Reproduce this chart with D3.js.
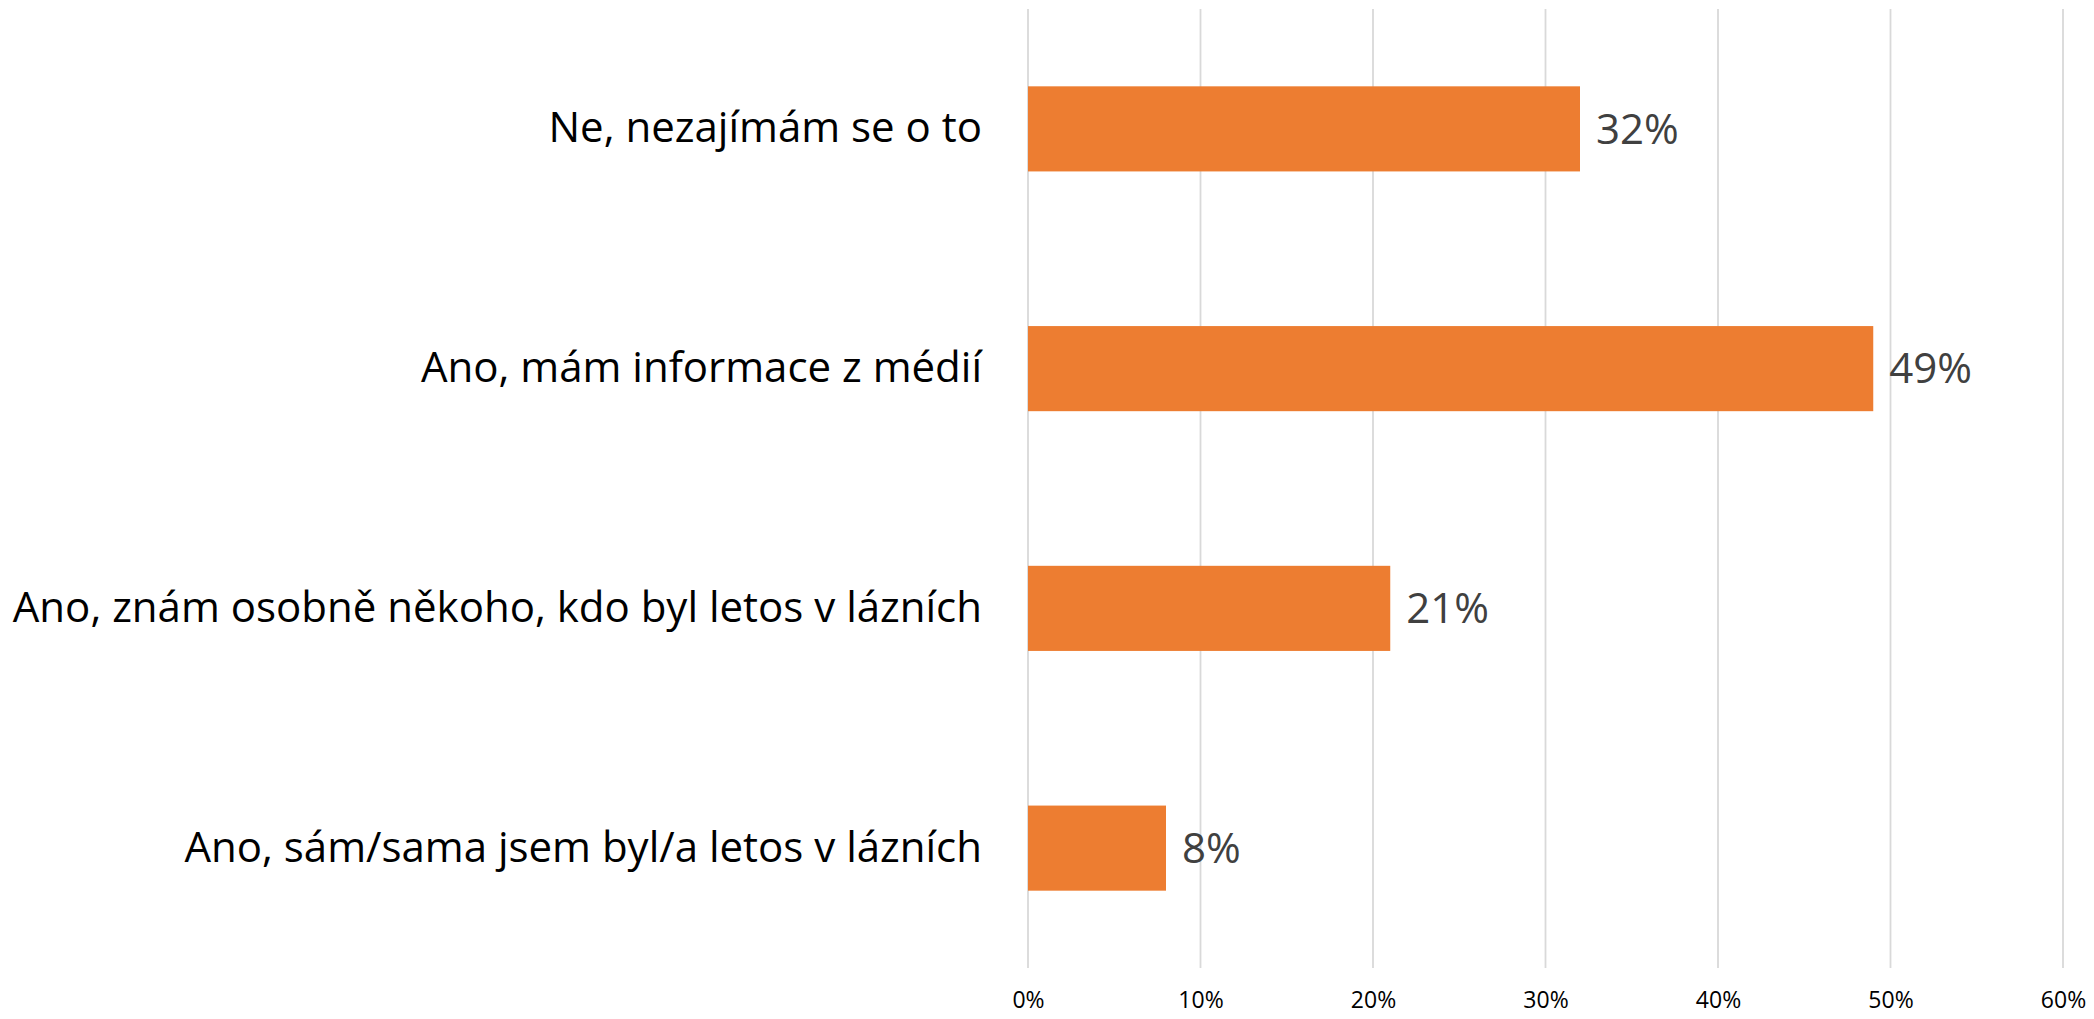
<!DOCTYPE html>
<html>
<head>
<meta charset="utf-8">
<script src="https://cdn.jsdelivr.net/npm/d3@7"></script>
<style>
	body { margin: 0; background: #fff; }
	svg { display: block; }
</style>
</head>
<body>
<div id="chart-area"></div>
<script>
const MARGIN = { LEFT: 1028, RIGHT: 31, TOP: 9, BOTTOM: 51 };
const WIDTH = 2094 - MARGIN.LEFT - MARGIN.RIGHT;
const HEIGHT = 1019 - MARGIN.TOP - MARGIN.BOTTOM;

// data
const categories = [
	"Ne, nezajímám se o to",
	"Ano, mám informace z médií",
	"Ano, znám osobně někoho, kdo byl letos v lázních",
	"Ano, sám/sama jsem byl/a letos v lázních"
];
const values = [0.32, 0.49, 0.21, 0.08];
const tickValues = [0, 0.1, 0.2, 0.3, 0.4, 0.5, 0.6];

const FONT = "'Open Sans', 'Noto Sans', sans-serif";

const svg = d3.select("#chart-area").append("svg")
	.attr("width", WIDTH + MARGIN.LEFT + MARGIN.RIGHT)
	.attr("height", HEIGHT + MARGIN.TOP + MARGIN.BOTTOM)

const g = svg.append("g")
	.attr("transform", `translate(${MARGIN.LEFT}, ${MARGIN.TOP})`)

const x = d3.scaleLinear()
	.domain([0, 0.6])
	.range([0, WIDTH])

const y = d3.scaleBand()
	.domain(categories)
	.range([0, HEIGHT])
	.paddingInner(0.645)
	.paddingOuter(0.3225)

// gridlines
g.selectAll(".grid")
	.data(tickValues)
	.enter().append("line")
	.attr("class", "grid")
	.attr("x1", d => x(d))
	.attr("x2", d => x(d))
	.attr("y1", 0)
	.attr("y2", HEIGHT)
	.attr("stroke", "#d9d9d9")
	.attr("stroke-width", 1.8)

// x axis labels
const xAxisCall = d3.axisBottom(x)
	.tickValues(tickValues)
	.tickSize(0)
	.tickPadding(24)
	.tickFormat(d3.format(".0%"))

const xAxis = g.append("g")
	.attr("class", "xAxis")
	.attr("transform", `translate(0, ${HEIGHT})`)
	.call(xAxisCall)

xAxis.select(".domain").remove()
xAxis.selectAll("text")
	.attr("font-family", FONT)
	.attr("font-size", 23)
	.attr("fill", "#000")

// category labels
const yAxisCall = d3.axisLeft(y)
	.tickSize(0)
	.tickPadding(46)

const yAxis = g.append("g")
	.attr("class", "yAxis")
	.call(yAxisCall)

yAxis.select(".domain").remove()
yAxis.selectAll("text")
	.attr("font-family", FONT)
	.attr("font-size", 42)
	.attr("fill", "#000")

// bars
g.selectAll("rect")
	.data(values)
	.enter().append("rect")
	.attr("x", 0)
	.attr("y", (d, i) => y(categories[i]))
	.attr("width", d => x(d))
	.attr("height", y.bandwidth())
	.attr("fill", "#ed7d31")

// value labels
g.selectAll(".valueLabel")
	.data(values)
	.enter().append("text")
	.attr("class", "valueLabel")
	.attr("x", d => x(d) + 16)
	.attr("y", (d, i) => y(categories[i]) + y.bandwidth() / 2)
	.attr("dy", "0.35em")
	.attr("font-family", FONT)
	.attr("font-size", 42)
	.attr("fill", "#404040")
	.text(d => d3.format(".0%")(d))
</script>
</body>
</html>
